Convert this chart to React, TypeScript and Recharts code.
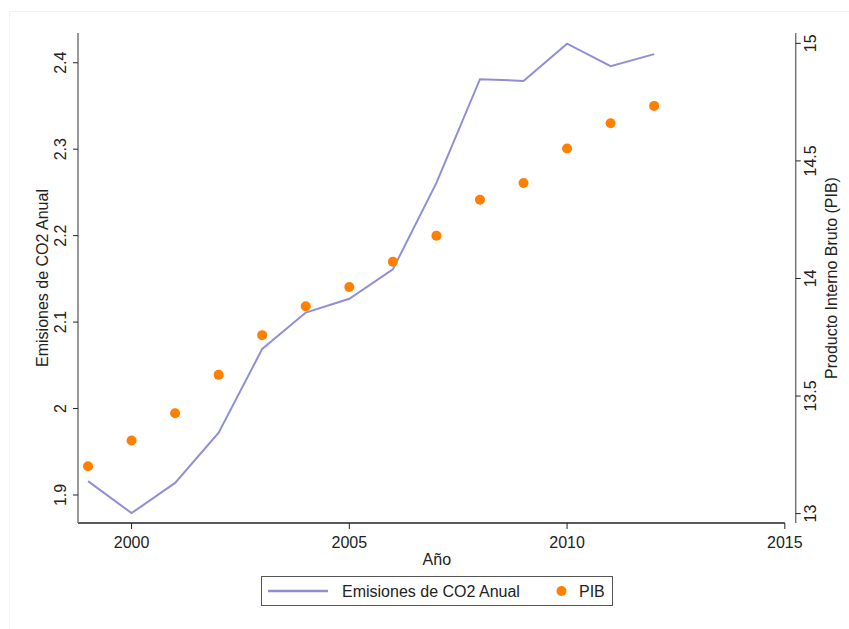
import React from "react";
import {
  ComposedChart,
  Line,
  Scatter,
  XAxis,
  YAxis,
  Legend,
  ReferenceLine,
} from "recharts";

const years = [1999, 2000, 2001, 2002, 2003, 2004, 2005, 2006, 2007, 2008, 2009, 2010, 2011, 2012];
const co2 = [1.916, 1.879, 1.914, 1.972, 2.069, 2.111, 2.127, 2.161, 2.261, 2.381, 2.379, 2.422, 2.396, 2.41];
const pib = [13.201, 13.311, 13.427, 13.59, 13.759, 13.882, 13.964, 14.071, 14.182, 14.335, 14.406, 14.553, 14.66, 14.734];

const xTicks = [2000, 2005, 2010, 2015];
const leftTicks = [1.9, 2.0, 2.1, 2.2, 2.3, 2.4];
const rightTicks = [13, 13.5, 14, 14.5, 15];

const data = years.map((y, i) => ({ year: y, co2: co2[i], pib: pib[i] }));

const FONT = "'Liberation Sans', Arial, sans-serif";
const LINE_COLOR = "#8f8fd8";
const DOT_COLOR = "#ff7f00";
const X_MIN = 1998.77;
const X_MAX = 2015.25;
const L_MIN = 1.8676;
const L_MAX = 2.4344;

const fmt = (v: number) => String(Math.round(v * 10) / 10);

function LeftTick({ x, y, payload }: any) {
  const bx = x - 5.5;
  return (
    <text x={bx} y={y} transform={`rotate(-90, ${bx}, ${y})`} textAnchor="middle"
      fontSize={16} fontFamily={FONT} fill="#222">
      {fmt(payload.value)}
    </text>
  );
}

function RightTick({ x, y, payload }: any) {
  const bx = x + 13;
  return (
    <text x={bx} y={y} transform={`rotate(-90, ${bx}, ${y})`} textAnchor="middle"
      fontSize={16} fontFamily={FONT} fill="#222">
      {fmt(payload.value)}
    </text>
  );
}

// rotated axis title, baseline at bx, centred on the axis height
function AxisTitle({ viewBox, value, bx }: any) {
  const cy = viewBox.y + viewBox.height / 2;
  return (
    <text x={bx} y={cy} transform={`rotate(-90, ${bx}, ${cy})`} textAnchor="middle"
      fontSize={16} fontFamily={FONT} fill="#222">
      {value}
    </text>
  );
}

function LegendBox() {
  return (
    <svg width={352} height={30} style={{ display: "block" }}>
      <rect x={0.5} y={0.5} width={351} height={29} fill="#fff" stroke="#555" />
      <line x1={7} y1={15} x2={67} y2={15} stroke={LINE_COLOR} strokeWidth={2.5} />
      <text x={81} y={20.5} fontSize={16} fontFamily={FONT} fill="#222">Emisiones de CO2 Anual</text>
      <circle cx={300.5} cy={15} r={5} fill={DOT_COLOR} />
      <text x={318} y={20.5} fontSize={16} fontFamily={FONT} fill="#222">PIB</text>
    </svg>
  );
}

export default function App() {
  return (
    <div style={{ position: "absolute", left: 0, top: 0, width: 849, height: 629, background: "#fff" }}>
      <div style={{ position: "absolute", left: 9, top: 11, width: 840, height: 618,
        borderLeft: "1px solid #f2f2f2", borderTop: "1px solid #f2f2f2" }} />
      <ComposedChart width={849} height={629} data={data}
        margin={{ top: 33, right: 0, bottom: 0, left: 0 }} style={{ position: "absolute", left: 0, top: 0 }}>
        <XAxis dataKey="year" type="number" domain={[X_MIN, X_MAX]} ticks={xTicks}
          allowDataOverflow height={106} tickSize={6} tickMargin={8} axisLine={false}
          tickLine={{ stroke: "#222" }}
          tick={{ fontSize: 16, fontFamily: FONT, fill: "#222" }}
          label={{ value: "Año", position: "insideTop", offset: 31, fontSize: 16, fontFamily: FONT, fill: "#222" }} />
        <YAxis yAxisId="left" orientation="left" width={78} domain={[L_MIN, L_MAX]}
          allowDataOverflow ticks={leftTicks} tickSize={5} tickMargin={1} type="number"
          axisLine={{ stroke: "#777", strokeWidth: 1.5 }} tickLine={{ stroke: "#222" }}
          tick={<LeftTick />}
          label={<AxisTitle value="Emisiones de CO2 Anual" bx={48} />} />
        <YAxis yAxisId="right" orientation="right" width={53.3} domain={[12.96, 15.044]}
          allowDataOverflow ticks={rightTicks} tickSize={5} tickMargin={2} type="number"
          axisLine={{ stroke: "#777", strokeWidth: 1.5 }} tickLine={{ stroke: "#222" }}
          tick={<RightTick />}
          label={<AxisTitle value="Producto Interno Bruto (PIB)" bx={836.5} />} />
        <ReferenceLine yAxisId="left" segment={[{ x: X_MIN, y: L_MIN }, { x: 2015, y: L_MIN }]}
          stroke="#222" strokeWidth={1.5} ifOverflow="visible" />
        <Line yAxisId="left" dataKey="co2" stroke={LINE_COLOR} strokeWidth={2} dot={false}
          type="linear" isAnimationActive={false} />
        <Scatter yAxisId="right" dataKey="pib" fill={DOT_COLOR} isAnimationActive={false}
          shape={(p: any) => <circle cx={p.cx} cy={p.cy} r={5} fill={DOT_COLOR} />} />
        <Legend layout="vertical" align="center" verticalAlign="middle" content={<LegendBox />}
          wrapperStyle={{ position: "absolute", left: 261, top: 576, width: 352, height: 30 }} />
      </ComposedChart>
    </div>
  );
}
